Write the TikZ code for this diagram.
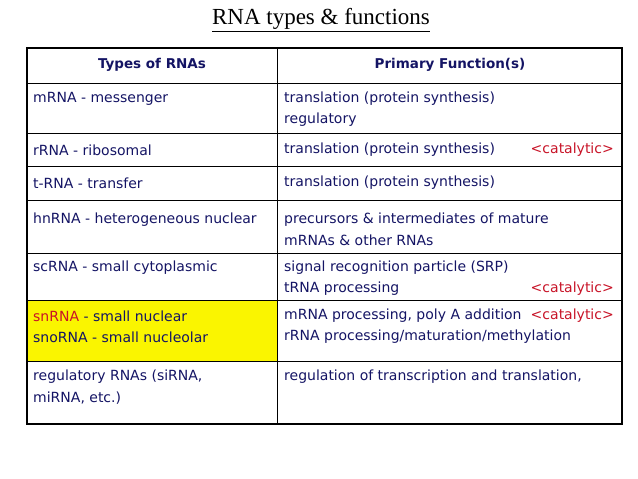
\documentclass[tikz,border=0pt]{standalone}
\usepackage{fontspec}
\setmainfont{Liberation Serif}
\newfontfamily\cellfont{DejaVu Sans}
\definecolor{navy}{RGB}{20,20,100}
\definecolor{catred}{RGB}{200,20,40}
\definecolor{hiyellow}{RGB}{250,245,0}
\begin{document}
\begin{tikzpicture}[x=1pt,y=-1pt,
    cell/.style={anchor=west,inner sep=0pt,text=navy,font=\cellfont\fontsize{14}{16}\selectfont},
    cat/.style={anchor=east,inner sep=0pt,text=catred,font=\cellfont\fontsize{14}{16}\selectfont},
    head/.style={inner sep=0pt,text=navy,font=\cellfont\bfseries\fontsize{13.5}{16}\selectfont}]
        \useasboundingbox (0,0) rectangle (638,479);
        \fill[hiyellow] (27,300) rectangle (277,361);
        \node[inner sep=0pt,font=\fontsize{23}{25}\selectfont] (title) at (321,20) {\underline{RNA types \& functions}};
        \node[head] (h1) at (152,65) {Types of RNAs};
        \node[head] (h2) at (450,65) {Primary Function(s)};
        \node[cell] (m1) at (33,99) {mRNA - messenger};
        \node[cell] (m2) at (284,99) {translation (protein synthesis)};
        \node[cell] (m3) at (284,120) {regulatory};
        \node[cell] (r1) at (33,150) {rRNA - ribosomal};
        \node[cell] (r2) at (284,150) {translation (protein synthesis)};
        \node[cat] (r3) at (614,150) {<catalytic>};
        \node[cell] (t1) at (33,183) {t-RNA - transfer};
        \node[cell] (t2) at (284,183) {translation (protein synthesis)};
        \node[cell] (hn1) at (33,220) {hnRNA - heterogeneous nuclear};
        \node[cell] (hn2) at (284,220) {precursors \& intermediates of mature};
        \node[cell] (hn3) at (284,240) {mRNAs \& other RNAs};
        \node[cell] (sc1) at (33,268) {scRNA - small cytoplasmic};
        \node[cell] (sc2) at (284,268) {signal recognition particle (SRP)};
        \node[cell] (sc3) at (284,289) {tRNA processing};
        \node[cat] (sc4) at (614,289) {<catalytic>};
        \node[cell] (sn1) at (33,316) {\textcolor{catred}{snRNA} - small nuclear};
        \node[cell] (sn2) at (33,337) {snoRNA - small nucleolar};
        \node[cell] (sn3) at (284,316) {mRNA processing, poly A addition};
        \node[cat] (sn4) at (614,316) {<catalytic>};
        \node[cell] (sn5) at (284,337) {rRNA processing/maturation/methylation};
        \node[cell] (rg1) at (33,377) {regulatory RNAs (siRNA,};
        \node[cell] (rg2) at (33,398) {miRNA, etc.)};
        \node[cell] (rg3) at (284,377) {regulation of transcription and translation,};
        \foreach \y in {83,133,166,200,253,300,361}
            \draw[thin] (27,\y) -- (622,\y);
        \draw[thin] (277,48) -- (277,424);
        \draw[line width=1.6pt] (27,48) rectangle (622,424);
\end{tikzpicture}
\end{document}
